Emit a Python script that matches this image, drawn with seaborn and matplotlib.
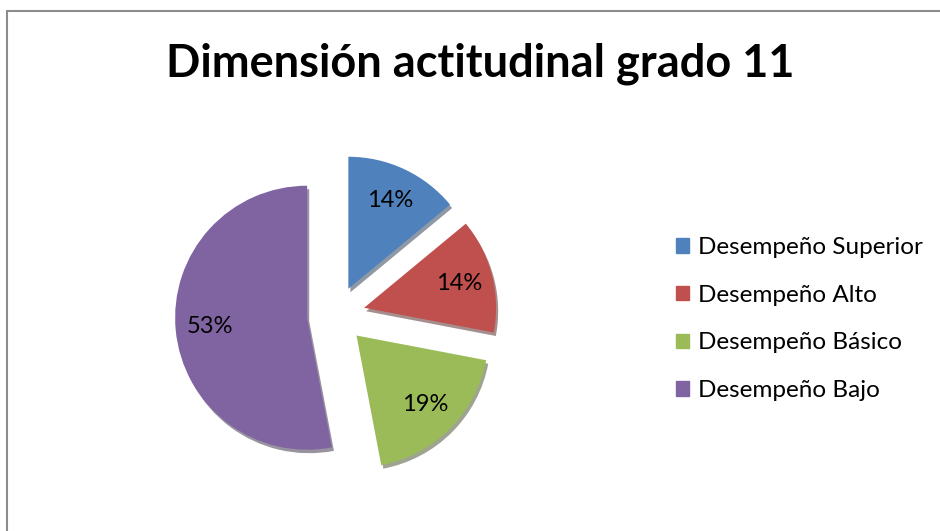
import matplotlib
matplotlib.use("Agg")
import matplotlib.pyplot as plt
import matplotlib.patches as mpatches
import seaborn as sns

# data
categories = ['Desempeño Superior', 'Desempeño Alto', 'Desempeño Básico', 'Desempeño Bajo']
shares = [14, 14, 19, 53]
colors = ['#4F81BD', '#C0504D', '#9BBB59', '#8064A2']
title = 'Dimensión actitudinal grado 11'

sns.set_theme(style='white')
plt.rcParams['font.family'] = ['Lato', 'DejaVu Sans']
plt.rcParams['text.color'] = 'black'

W, H = 940, 531
fig = plt.figure(figsize=(W / 100, H / 100), dpi=100)
fig.patch.set_facecolor('white')

# axes in pixel units so the pie can be placed like in the picture
ax = fig.add_axes([0, 0, 1, 1])

palette = sns.color_palette(colors)
# explode is in data units here (pixels), not a radius fraction
wedges, texts, autotexts = ax.pie(
    shares,
    colors=palette,
    startangle=90,
    counterclock=False,
    explode=[29] * len(shares),
    center=(336, 216),
    radius=132,
    autopct='%1.0f%%',
    pctdistance=0.74,
    shadow={'ox': 1.5, 'oy': -2.5, 'shade': 0.6},
    wedgeprops={'linewidth': 0},
    textprops={'fontsize': 17, 'color': 'black'},
)
ax.set_xlim(0, W)
ax.set_ylim(0, H)
ax.set_aspect('equal')
ax.axis('off')

fig.text(0.511, 0.88, title, ha='center', va='center',
         fontsize=32.5, fontweight='bold', color='black')

handles = [mpatches.Patch(color=c, label=l) for c, l in zip(palette, categories)]
fig.legend(handles=handles, loc='center left', bbox_to_anchor=(0.719, 0.399),
           frameon=False, fontsize=17.5, handlelength=0.55, handleheight=0.55,
           handletextpad=0.35, labelspacing=1.1, borderaxespad=0, borderpad=0,
           labelcolor='black')

# chart border (top and left visible)
border = mpatches.Rectangle((7 / W, -0.1), 1.2, (H - 11) / H + 0.1,
                            transform=fig.transFigure, fill=False,
                            edgecolor='#8c8c8c', linewidth=1.5)
fig.patches.append(border)

fig.savefig('out.png', dpi=100)
